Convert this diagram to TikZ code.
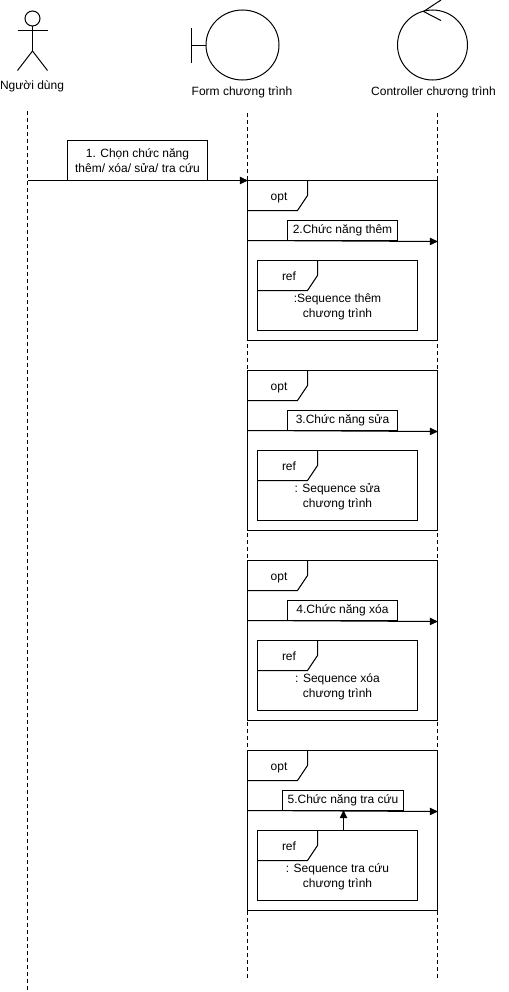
\documentclass[tikz,border=0pt]{standalone}
\usepackage{fontspec}
\setmainfont{Liberation Sans}
\usetikzlibrary{arrows.meta,shapes.geometric}
\tikzset{
  ln/.style={draw=black,line width=0.75pt,outer sep=0pt},
  lifeline/.style={ln,dash pattern=on 3pt off 2.25pt},
  msg/.style={ln,-{Triangle[length=6pt,width=5.5pt]},shorten >=-0.3pt},
  lbl/.style={inner sep=0pt,font=\fontsize{9pt}{11.25pt}\selectfont,align=center,text=black},
  box/.style={ln,fill=white,inner sep=0pt,minimum height=15pt,font=\fontsize{9pt}{11.25pt}\selectfont,align=center,anchor=north west},
  framebox/.style={ln,inner sep=0pt,anchor=north west,minimum width=142.5pt,minimum height=120pt},
  refbox/.style={ln,inner sep=0pt,anchor=north west,minimum width=120pt,minimum height=52.5pt}
}
\newcommand{\seqfrag}[5]{%
  \node[framebox] (fr#1) at (247.5,#2) {};
  \draw[ln] (fr#1.north west) ++(60,0) -- ++(0,15) -- ++(-10,15) -- ++(-50,0);
  \node[lbl] (opt#1) at (279,{#2+17.5}) {opt};
  \coordinate (ms#1) at (247.5,{#2+60});
  \coordinate (me#1) at (437.5,{#2+61});
  \draw[msg] (ms#1) -- (me#1);
  \node[box,minimum width=#4*0.75pt] (lb#1) at (#3,{#2+40}) {\raisebox{-0.75pt}{\Lab{#1}}};
  \node[refbox] (rf#1) at (257.5,{#2+80}) {};
  \draw[ln] (rf#1.north west) ++(60,0) -- ++(0,15) -- ++(-10,15) -- ++(-50,0);
  \node[lbl] (rl#1) at (289,{#2+96}) {ref};
  \node[lbl] (rt#1) at (337.5,{#2+126}) {#5};
}
\newcommand{\Lab}[1]{\ifcase#1\or\or 2.Chức năng thêm\or 3.Chức năng sửa\or 4.Chức năng xóa\or 5.Chức năng tra cứu\fi}
\begin{document}
\begin{tikzpicture}[x=0.75pt,y=-0.75pt]
\useasboundingbox (0,0) rectangle (508,992);
\fill[white] (0,0) rectangle (508,992);
% lifelines
\coordinate (ua) at (27.5,111);
\coordinate (ub) at (27.5,991);
\coordinate (fa) at (247.5,113);
\coordinate (fb) at (247.5,980);
\coordinate (ca) at (437.5,113);
\coordinate (cb) at (437.5,980);
\draw[lifeline] (ua) -- (ub);
\draw[lifeline] (fa) -- (fb);
\draw[lifeline] (ca) -- (cb);
% actor
\node[ln,circle,minimum size=11.25pt,inner sep=0pt] (head) at (32.5,18.5) {};
\coordinate (hip) at (32.5,51);
\coordinate (armL) at (17.5,30.5);
\coordinate (armR) at (47.5,30.5);
\coordinate (legL) at (17.5,70.5);
\coordinate (legR) at (47.5,70.5);
\draw[ln] (head.south) -- (hip);
\draw[ln] (armL) -- (armR);
\draw[ln] (legL) -- (hip) -- (legR);
\node[lbl] (ulabel) at (32,86) {Người dùng};
% boundary
\node[ln,ellipse,minimum width=54.75pt,minimum height=52.5pt,inner sep=0pt] (bnd) at (242.5,45) {};
\coordinate (barT) at (191.5,28);
\coordinate (barB) at (191.5,62.5);
\coordinate (barM) at (191.5,45);
\draw[ln] (barT) -- (barB);
\draw[ln] (barM) -- (bnd.west);
\node[lbl] (flabel) at (242,92.5) {Form chương trình};
% control
\node[ln,circle,minimum size=52.5pt,inner sep=0pt] (ctl) at (432.5,45) {};
\coordinate (tipA) at (441,0);
\coordinate (tipM) at (423.5,11.5);
\coordinate (tipB) at (441,20.5);
\draw[ln] (tipA) -- (tipM) -- (tipB);
\node[lbl] (clabel) at (433.5,92.5) {Controller chương trình};
% message 1
\coordinate (m1s) at (27.5,180.5);
\coordinate (m1e) at (247.5,180.5);
\draw[msg] (m1s) -- (m1e);
\node[box,minimum width=105pt,minimum height=30pt] (m1) at (67.5,140.5) {\raisebox{-0.75pt}{\parbox{105pt}{\centering 1. Chọn chức năng\\thêm/ xóa/ sửa/ tra cứu}}};
% fragments
\seqfrag{2}{180.5}{287.5}{110}{:Sequence thêm\\chương trình}
\seqfrag{3}{370.5}{287.5}{110}{: Sequence sửa\\chương trình}
\seqfrag{4}{560.5}{287.5}{110}{: Sequence xóa\\chương trình}
\seqfrag{5}{750.5}{282.5}{121}{: Sequence tra cứu\\chương trình}
\draw[msg] (rf5.north west -| 343.5,0) -- (lb5.south west -| 343.5,0);
\end{tikzpicture}
\end{document}
